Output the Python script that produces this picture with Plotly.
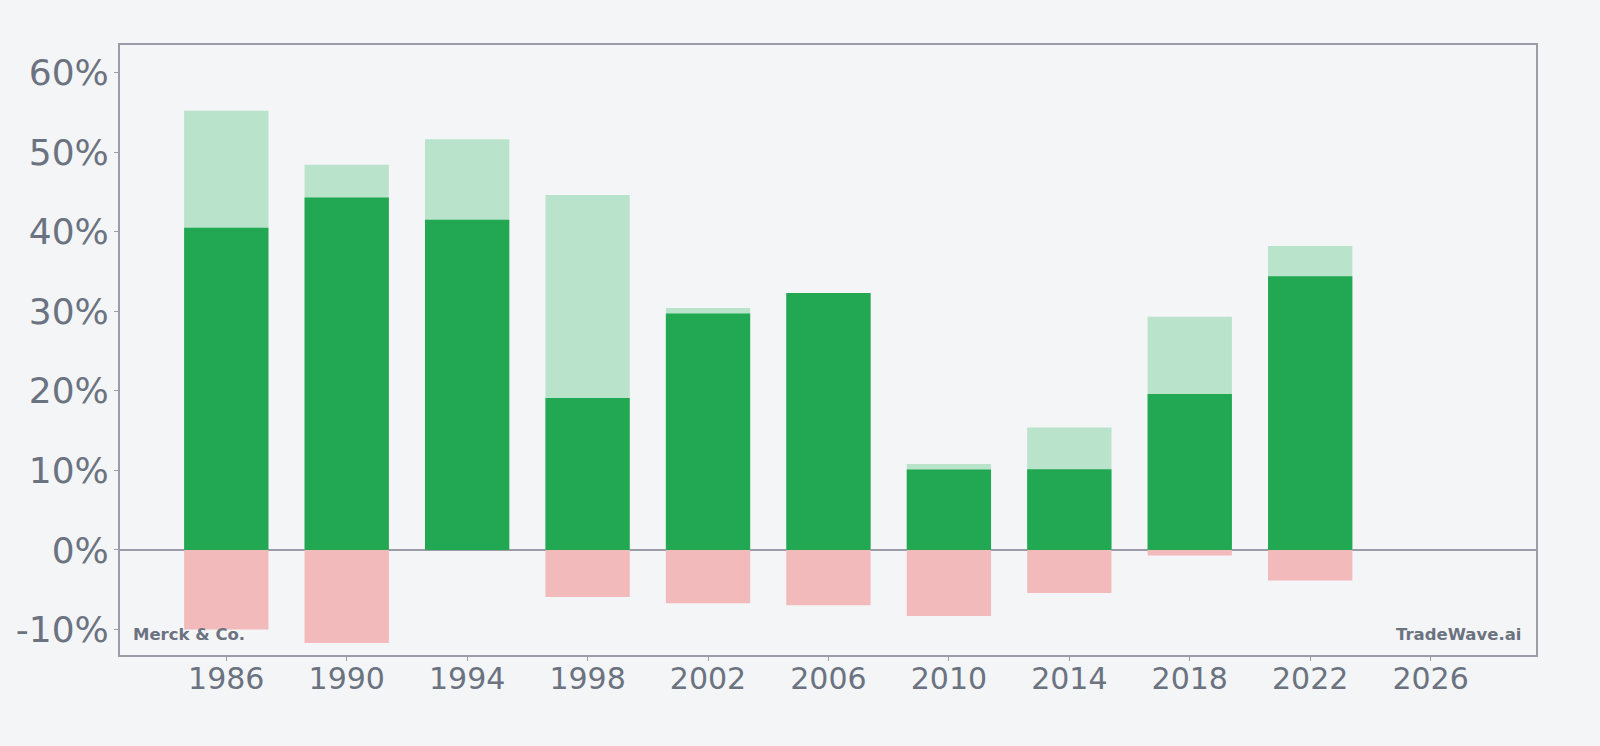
import plotly.graph_objects as go

years = [1986, 1990, 1994, 1998, 2002, 2006, 2010, 2014, 2018, 2022]
base_pct = [40.5, 44.3, 41.5, 19.1, 29.7, 32.3, 10.1, 10.15, 19.6, 34.4]
high_pct = [55.2, 48.4, 51.6, 44.6, 30.4, 32.3, 10.8, 15.4, 29.3, 38.2]
low_pct = [-10.0, -11.7, 0.0, -5.9, -6.7, -6.95, -8.3, -5.4, -0.7, -3.85]
y_ticks = [-10, 0, 10, 20, 30, 40, 50, 60]
y_tick_labels = ["-10%", "0%", "10%", "20%", "30%", "40%", "50%", "60%"]
x_ticks = [1986, 1990, 1994, 1998, 2002, 2006, 2010, 2014, 2018, 2022, 2026]

BAR_W = 2.8
GRAY = "#6b7280"
LINE = "#9a9ca8"
BG = "#f4f5f7"

fig = go.Figure()
fig.add_trace(go.Bar(x=years, y=high_pct, width=BAR_W, marker=dict(color="#b9e3ca", line=dict(width=0)), hoverinfo="skip"))
fig.add_trace(go.Bar(x=years, y=base_pct, width=BAR_W, marker=dict(color="#22a753", line=dict(width=0))))
fig.add_trace(go.Bar(x=years, y=low_pct, width=BAR_W, marker=dict(color="#f2baba", line=dict(width=0))))

fig.update_layout(
    barmode="overlay",
    showlegend=False,
    width=1600, height=746,
    margin=dict(l=120, r=64, t=45, b=91),
    paper_bgcolor=BG, plot_bgcolor=BG,
    font=dict(family="DejaVu Sans", color=GRAY),
    xaxis=dict(range=[1982.47, 2029.5], tickvals=x_ticks, ticktext=[str(t) for t in x_ticks],
               showgrid=False, zeroline=False, showline=True, linecolor=LINE, linewidth=2, mirror=True,
               ticks="outside", ticklen=4, tickcolor=LINE, tickfont=dict(size=30, color=GRAY),
               ticklabelstandoff=-8),
    yaxis=dict(range=[-13.2, 63.45], tickvals=y_ticks, ticktext=y_tick_labels,
               showgrid=False, zeroline=True, zerolinecolor=LINE, zerolinewidth=2,
               showline=True, linecolor=LINE, linewidth=2, mirror=True,
               ticks="outside", ticklen=4, tickcolor=LINE, tickfont=dict(size=36, color=GRAY),
               ticklabelstandoff=-2),
    annotations=[
        dict(text="<b>Merck & Co.</b>", xref="paper", yref="paper", x=0.008, y=0.015, xanchor="left", yanchor="bottom",
             showarrow=False, font=dict(size=16.5, color=GRAY)),
        dict(text="<b>TradeWave.ai</b>", xref="paper", yref="paper", x=0.991, y=0.015, xanchor="right", yanchor="bottom",
             showarrow=False, font=dict(size=16.5, color=GRAY)),
    ],
)

fig.write_html("out.html")
